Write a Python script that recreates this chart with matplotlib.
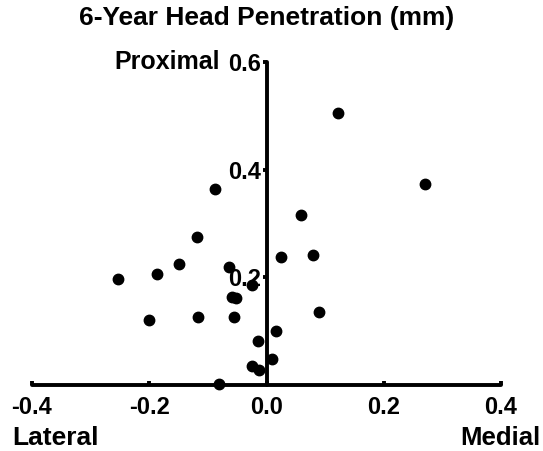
import numpy as np
import matplotlib.pyplot as plt

plt.rcParams['font.family'] = ['Liberation Sans', 'DejaVu Sans']
plt.rcParams['font.weight'] = 'bold'

# head penetration at 6 years: medial/lateral (x) vs proximal (y), mm
medial = [0.122, 0.270, -0.088, 0.058, -0.119, 0.024, 0.080, -0.150,
          -0.254, -0.187, -0.064, -0.024, -0.058, -0.052, -0.200, -0.117,
          -0.056, 0.089, 0.016, -0.015, 0.010, -0.025, -0.013, -0.081]
proximal = [0.505, 0.373, 0.364, 0.315, 0.275, 0.238, 0.241, 0.225,
            0.196, 0.207, 0.220, 0.186, 0.164, 0.162, 0.120, 0.126,
            0.127, 0.135, 0.100, 0.081, 0.048, 0.036, 0.028, 0.002]

xticks = [-0.4, -0.2, 0.0, 0.2, 0.4]
yticks = [0.2, 0.4, 0.6]

fig = plt.figure(figsize=(5.43, 4.51), dpi=100)
ax = fig.add_axes([32 / 543, 66 / 451, 469 / 543, 323 / 451])

ax.plot(medial, proximal, 'o', color='black', markersize=7.5, clip_on=False, zorder=3)

ax.set_xlim(-0.4, 0.4)
ax.set_ylim(0, 0.6)

# axes cross at the origin
ax.spines['left'].set_position(('data', 0))
ax.spines['bottom'].set_position(('data', 0))
ax.spines['right'].set_visible(False)
ax.spines['top'].set_visible(False)
for s in ['left', 'bottom']:
    ax.spines[s].set_linewidth(2.8)
    ax.spines[s].set_capstyle('round')

ax.set_xticks(xticks)
ax.set_xticklabels(['%.1f' % v for v in xticks])
ax.set_yticks(yticks)
ax.set_yticklabels(['%.1f' % v for v in yticks])
ax.tick_params(axis='both', length=3, width=2.8, labelsize=17)
ax.tick_params(axis='x', direction='in', pad=8)
ax.tick_params(axis='y', direction='out', pad=1)

ax.set_title('6-Year Head Penetration (mm)', fontsize=19, fontweight='bold', pad=27)

ax.text(-0.079, 0.6, 'Proximal', fontsize=18, fontweight='bold',
        ha='right', va='center')
fig.text(12 / 543, 1 - 445 / 451, 'Lateral', fontsize=19, fontweight='bold',
         ha='left', va='baseline')
fig.text(540 / 543, 1 - 445 / 451, 'Medial', fontsize=18.5, fontweight='bold',
         ha='right', va='baseline')

fig.savefig('out.png', dpi=100)
